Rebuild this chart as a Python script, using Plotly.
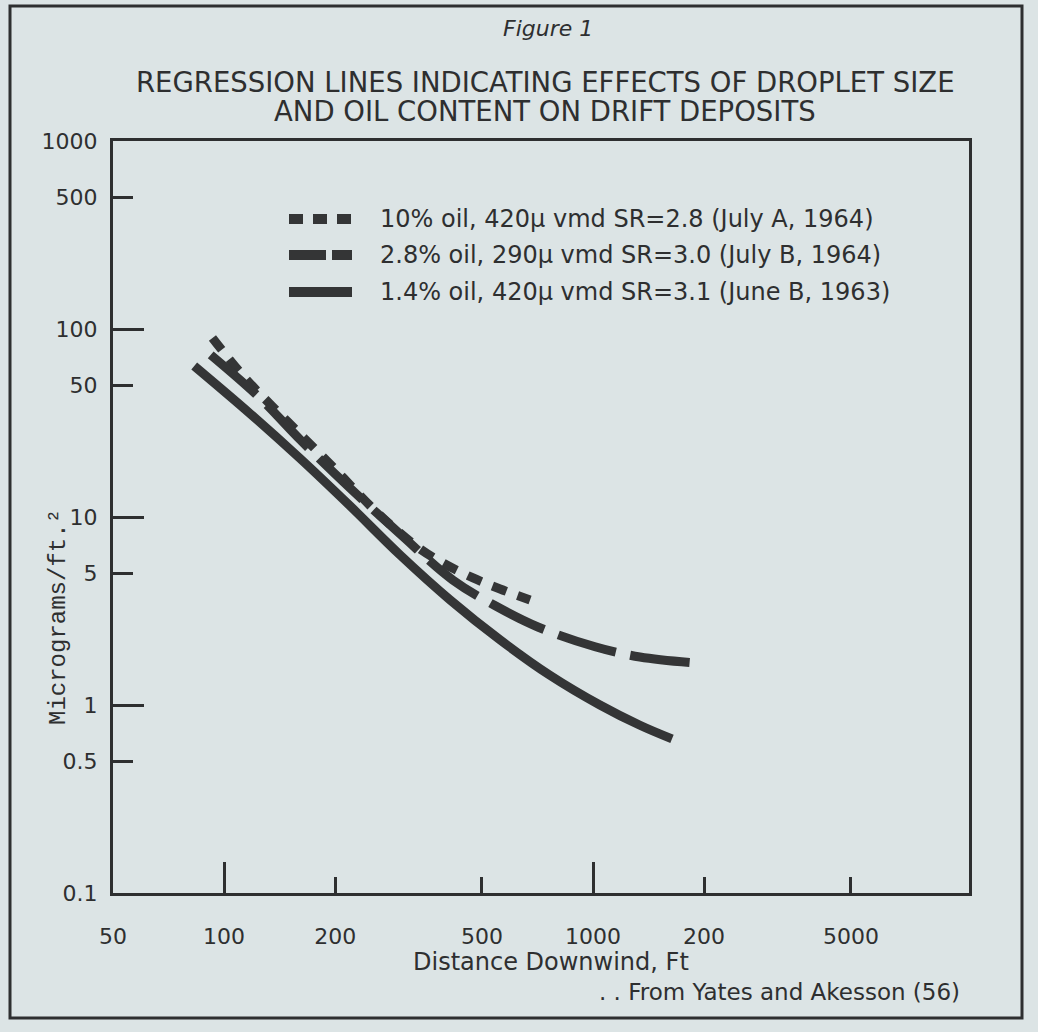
import plotly.graph_objects as go

# Canvas and plot-area geometry (pixels)
W, H = 1038, 1032
L_M, R_M, T_M, B_M = 113, 69, 141, 139
PW = W - L_M - R_M
PH = H - T_M - B_M

INK = "#2e2f30"
LINE_INK = "#343536"
PAPER = "#dce4e5"
SANS = "DejaVu Sans"
MONO = "Liberation Mono"


def px(X):
    """Pixel column -> paper x."""
    return (X - L_M) / PW


def py(Y):
    """Pixel row -> paper y."""
    return (H - B_M - Y) / PH


# Regression lines: distance downwind (ft) vs deposit (micrograms/ft^2)
distance_10pct = [93, 114, 149, 196, 252, 294, 340, 392, 473, 560, 675]
deposit_10pct = [89.6, 54.9, 32, 18.7, 11.2, 8.5, 6.76, 5.69, 4.74, 4.14, 3.62]

distance_2_8pct = [92, 125, 161, 219, 300, 417, 545, 709, 1013, 1340, 1914]
deposit_2_8pct = [72.8, 43.0, 25.7, 14.3, 8.12, 4.62, 3.36, 2.60, 2.04, 1.80, 1.67]

distance_1_4pct = [83, 118, 161, 219, 300, 410, 560, 764, 1044, 1340, 1637]
deposit_1_4pct = [63.6, 35.3, 20.4, 11.5, 6.28, 3.62, 2.22, 1.44, 1.0, 0.78, 0.66]

series_labels = [
    "10% oil, 420\u03bc vmd SR=2.8 (July A, 1964)",
    "2.8% oil, 290\u03bc vmd SR=3.0 (July B, 1964)",
    "1.4% oil, 420\u03bc vmd SR=3.1 (June B, 1963)",
]
series_dash = ["15px,12px", "60px,15px", "solid"]
legend_dash = ["14px,10px", "37px,6px", "solid"]

x_tickvals = [50, 100, 200, 500, 1000, 2000, 5000]
x_ticktext = ["50", "100", "200", "500", "1000", "200", "5000"]
x_long_ticks = [100, 1000]

y_tickvals = [0.1, 0.5, 1, 5, 10, 50, 100, 500, 1000]
y_ticktext = ["0.1", "0.5", "1", "5", "10", "50", "100", "500", "1000"]
y_long_ticks = [1, 10, 100]

fig = go.Figure()

for xs, ys, dash, name in [
    (distance_10pct, deposit_10pct, series_dash[0], series_labels[0]),
    (distance_2_8pct, deposit_2_8pct, series_dash[1], series_labels[1]),
    (distance_1_4pct, deposit_1_4pct, series_dash[2], series_labels[2]),
]:
    fig.add_trace(
        go.Scatter(
            x=xs, y=ys, mode="lines", name=name,
            line=dict(color=LINE_INK, width=9, dash=dash, shape="spline", smoothing=1.0),
            showlegend=False, hoverinfo="skip",
        )
    )

X_RANGE = [1.69897, 4.019]
Y_RANGE = [-1, 3]

axis_common = dict(showgrid=False, zeroline=False, ticks="inside",
                   tickcolor=INK, tickwidth=3)

fig.update_layout(
    width=W, height=H, autosize=False,
    margin=dict(l=L_M, r=R_M, t=T_M, b=B_M, pad=0),
    paper_bgcolor=PAPER, plot_bgcolor=PAPER,
    showlegend=False,
    xaxis=dict(
        type="log", range=X_RANGE, tickmode="array",
        tickvals=x_tickvals, ticktext=x_ticktext, ticklen=16,
        showline=True, linecolor=INK, linewidth=3, mirror=True,
        tickfont=dict(family=SANS, size=22, color=INK),
        ticklabelstandoff=22, **axis_common,
    ),
    xaxis2=dict(
        type="log", range=X_RANGE, overlaying="x", anchor="y", side="bottom",
        tickmode="array", tickvals=x_long_ticks, ticklen=31,
        showticklabels=False, showline=False, **axis_common,
    ),
    yaxis=dict(
        type="log", range=Y_RANGE, tickmode="array",
        tickvals=y_tickvals, ticktext=y_ticktext, ticklen=20,
        showline=True, linecolor=INK, linewidth=3, mirror=True,
        tickfont=dict(family=SANS, size=22, color=INK),
        ticklabelstandoff=8, **axis_common,
    ),
    yaxis2=dict(
        type="log", range=Y_RANGE, overlaying="y", anchor="x", side="left",
        tickmode="array", tickvals=y_long_ticks, ticklen=31,
        showticklabels=False, showline=False, **axis_common,
    ),
)

# Empty trace bound to the overlay axes so their long ticks are drawn
fig.add_trace(go.Scatter(x=[None], y=[None], xaxis="x2", yaxis="y2",
                         showlegend=False, hoverinfo="skip"))

shapes = []
annotations = []

# Outer frame around the whole figure
shapes.append(dict(type="rect", xref="paper", yref="paper",
                   x0=px(10), x1=px(1022), y0=py(1018), y1=py(6),
                   line=dict(color=INK, width=3), layer="above"))

# Legend key: line samples drawn in paper space
legend_rows = [219, 255, 292]
for row_y, dash, label in zip(legend_rows, legend_dash, series_labels):
    shapes.append(dict(type="line", xref="paper", yref="paper",
                       x0=px(289), x1=px(352), y0=py(row_y), y1=py(row_y),
                       line=dict(color=LINE_INK, width=10, dash=dash)))
    annotations.append(dict(xref="paper", yref="paper", x=px(378), y=py(row_y),
                            xanchor="left", yanchor="middle", showarrow=False,
                            text=label, font=dict(family=SANS, size=24, color=INK)))

# Titles
annotations.append(dict(xref="paper", yref="paper", x=px(548), y=py(29),
                        xanchor="center", yanchor="middle", showarrow=False,
                        text="<i>Figure 1</i>",
                        font=dict(family=SANS, size=22, color=INK)))
annotations.append(dict(xref="paper", yref="paper", x=px(545), y=py(82),
                        xanchor="center", yanchor="middle", showarrow=False,
                        text="REGRESSION LINES INDICATING EFFECTS OF DROPLET SIZE",
                        font=dict(family=SANS, size=27.5, color=INK)))
annotations.append(dict(xref="paper", yref="paper", x=px(545), y=py(111),
                        xanchor="center", yanchor="middle", showarrow=False,
                        text="AND OIL CONTENT ON DRIFT DEPOSITS",
                        font=dict(family=SANS, size=27.5, color=INK)))

# Axis titles and source note
annotations.append(dict(xref="paper", yref="paper", x=px(58), y=py(617),
                        xanchor="center", yanchor="middle", showarrow=False,
                        textangle=-90, text="Micrograms/ft.\u00b2",
                        font=dict(family=MONO, size=24, color=INK)))
annotations.append(dict(xref="paper", yref="paper", x=px(551), y=py(962),
                        xanchor="center", yanchor="middle", showarrow=False,
                        text="Distance Downwind, Ft",
                        font=dict(family=SANS, size=24, color=INK)))
annotations.append(dict(xref="paper", yref="paper", x=px(962), y=py(992),
                        xanchor="right", yanchor="middle", showarrow=False,
                        text=". . From Yates and Akesson (56)",
                        font=dict(family=SANS, size=23, color=INK)))

fig.update_layout(shapes=shapes, annotations=annotations)

fig.write_html("out.html")
